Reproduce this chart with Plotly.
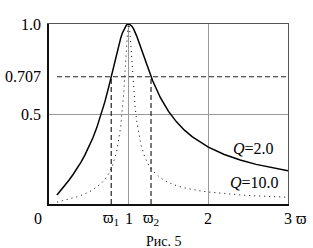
import plotly.graph_objects as go

# Read-off values of the two resonance curves
omega = [0.1, 0.15, 0.2, 0.25, 0.3, 0.35, 0.4, 0.45, 0.5, 0.55, 0.6, 0.65, 0.7, 0.75,
         0.8, 0.85, 0.9, 0.92, 0.94, 0.96, 0.97, 0.98, 0.99, 1.0, 1.01, 1.02, 1.03, 1.04,
         1.06, 1.08, 1.1, 1.15, 1.2, 1.25, 1.3, 1.4, 1.5, 1.6, 1.7, 1.8, 1.9, 2.0,
         2.2, 2.4, 2.6, 2.8, 3.0]
k_q2 = [0.0504, 0.0765, 0.1036, 0.1322, 0.1627, 0.1956, 0.2316, 0.2715, 0.3162, 0.3669,
        0.4244, 0.4906, 0.5659, 0.6508, 0.7433, 0.8373, 0.9212, 0.9485, 0.9707, 0.9869,
        0.9927, 0.9968, 0.9992, 1.0, 0.9992, 0.9969, 0.9931, 0.9879, 0.9739, 0.9556,
        0.9342, 0.8722, 0.8064, 0.7433, 0.6857, 0.5892, 0.5145, 0.4563, 0.4102, 0.3728,
        0.3420, 0.3162, 0.2754, 0.2445, 0.2202, 0.2005, 0.1843]
k_q10 = [0.0101, 0.0153, 0.0208, 0.0267, 0.0330, 0.0399, 0.0476, 0.0563, 0.0665, 0.0786,
         0.0934, 0.1119, 0.1360, 0.1690, 0.2169, 0.2928, 0.4281, 0.5137, 0.6283, 0.7744,
         0.8541, 0.9272, 0.9804, 1.0, 0.9806, 0.9298, 0.8609, 0.7866, 0.6510, 0.5443,
         0.4640, 0.3359, 0.2631, 0.2169, 0.1852, 0.1443, 0.1191, 0.1020, 0.0896, 0.0801,
         0.0726, 0.0665, 0.0572, 0.0504, 0.0451, 0.0409, 0.0375]

level = 0.707
level_x = [0.1, 3.0]
omega1 = 0.781
omega2 = 1.281

W = "\u03d6"  # varpi, drawn as omega with a bar
ytick_vals = [1.0, level, 0.5]
ytick_text = ["1.0", "0.707", "0.5"]
xtick_vals = [omega1, 1, omega2, 2, 3]
xtick_text = [W + "<sub>1</sub>", "1", W + "<sub>2</sub>", "2", "3"]

FONT = "Liberation Serif"

fig = go.Figure()
fig.add_trace(go.Scatter(x=omega, y=k_q10, mode="lines",
                         line=dict(color="black", width=1, dash="1px,4px")))
fig.add_trace(go.Scatter(x=level_x, y=[level, level], mode="lines", xaxis="x2", yaxis="y2",
                         line=dict(color="#222", width=1.2, dash="5px,3px")))
for w in (omega1, omega2):
    fig.add_trace(go.Scatter(x=[w, w], y=[0, level], mode="lines",
                             line=dict(color="#222", width=1.2, dash="5px,3px")))
fig.add_trace(go.Scatter(x=omega, y=k_q2, mode="lines",
                         line=dict(color="black", width=1.5)))

ty = -(218 - 204) / 180
ann = []
for v, t in zip(ytick_vals, ytick_text):
    ann.append(dict(x=-(49 - 43) / 239, xref="paper", y=v, yref="y", text=t, showarrow=False,
                    xanchor="right", yanchor="middle"))
for v, t in zip(xtick_vals, xtick_text):
    ann.append(dict(x=v, xref="x", y=ty, yref="paper", text=t, showarrow=False,
                    xanchor="center", yanchor="middle"))
ann.append(dict(x=(38 - 49) / 239, xref="paper", y=ty, yref="paper", text="0",
                showarrow=False, xanchor="center", yanchor="middle"))
ann.append(dict(x=(294 - 49) / 239, xref="paper", y=ty, yref="paper", text=W,
                showarrow=False, xanchor="left", yanchor="middle"))
ann.append(dict(x=2.28, xref="x", y=0.311, yref="y", text="<i>Q</i>=2.0", showarrow=False,
                xanchor="left", yanchor="middle"))
ann.append(dict(x=2.25, xref="x", y=0.117, yref="y", text="<i>Q</i>=10.0", showarrow=False,
                xanchor="left", yanchor="middle"))
ann.append(dict(x=(164 - 49) / 239, xref="paper", y=-(241 - 204) / 180, yref="paper",
                text="Рис. 5", showarrow=False, xanchor="center", yanchor="middle",
                font=dict(size=14, family=FONT, color="black")))

fig.update_layout(
    width=313, height=248,
    margin=dict(l=49, r=25, t=24, b=44),
    paper_bgcolor="white", plot_bgcolor="white",
    showlegend=False,
    font=dict(family=FONT, size=16, color="black"),
    annotations=ann,
    xaxis=dict(range=[0, 3], tickvals=[1, 2], showticklabels=False, ticks="",
               showgrid=True, gridcolor="#999", gridwidth=1, zeroline=False,
               showline=True, linecolor="#111", linewidth=1.5),
    yaxis=dict(range=[0, 1], tickvals=[0.5], showticklabels=False, ticks="",
               showgrid=True, gridcolor="#999", gridwidth=1, zeroline=False,
               showline=True, linecolor="#111", linewidth=1.5),
    xaxis2=dict(range=[0, 3], overlaying="x", side="top", showticklabels=False,
                ticks="", showgrid=False, zeroline=False, showline=True,
                linecolor="#555", linewidth=1.2),
    yaxis2=dict(range=[0, 1], overlaying="y", side="right", showticklabels=False,
                ticks="", showgrid=False, zeroline=False, showline=True,
                linecolor="#555", linewidth=1.2),
)

fig.write_html("out.html")
